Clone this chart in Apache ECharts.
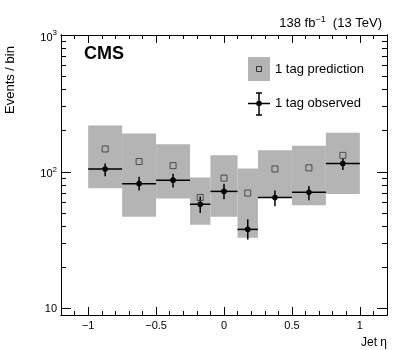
<!DOCTYPE html>
<html>
<head>
<meta charset="utf-8">
<script src="https://cdn.jsdelivr.net/npm/echarts@6/dist/echarts.min.js"></script>
<style>
  html, body { margin: 0; padding: 0; background: #fff; }
  #chart { width: 407px; height: 350px; }
</style>
</head>
<body>
<div id="chart"></div>
<script>
// bins in jet eta
const binLow = [-1, -0.75, -0.5, -0.25, -0.1, 0.1, 0.25, 0.5, 0.75];
const binHigh = [-0.75, -0.5, -0.25, -0.1, 0.1, 0.25, 0.5, 0.75, 1.0];

// 1 tag prediction (central value + band)
const predicted = [147, 119, 111, 65, 90, 70, 105, 107, 132];
const predLow = [76, 47, 64, 41, 47, 33, 65, 57, 69];
const predHigh = [218, 191, 159, 91, 132, 106, 144, 155, 193];

// 1 tag observed (value + stat error)
const observed = [105, 82, 87, 58, 72, 38, 65, 71, 115];
const obsLow = [93, 73, 77, 50, 63, 32, 56, 62, 103];
const obsHigh = [115, 92, 97, 66, 82, 45, 73, 79, 126];

// axis ticks
const xMajorTicks = [-1, -0.5, 0, 0.5, 1];
const xMinorTicks = [-1.1, -0.9, -0.8, -0.7, -0.6, -0.4, -0.3, -0.2, -0.1,
  0.1, 0.2, 0.3, 0.4, 0.6, 0.7, 0.8, 0.9, 1.1];
const yMajorTicks = [10, 100, 1000];
const yMinorTicks = [20, 30, 40, 50, 60, 70, 80, 90, 200, 300, 400, 500, 600, 700, 800, 900];

const FONT = '"Liberation Sans", Arial, Helvetica, sans-serif';
const BAND = '#b4b4b4';

const chart = echarts.init(document.getElementById('chart'));

function xAxisDef(pos, ticks, len, showLabel) {
  return {
    type: 'value', position: pos, min: -1.2, max: 1.2,
    axisLine: { show: true, onZero: false, lineStyle: { color: '#000', width: 1 } },
    axisTick: { show: true, inside: true, length: len, customValues: ticks,
      lineStyle: { color: '#000', width: 1 } },
    axisLabel: { show: showLabel, customValues: ticks, margin: 5,
      fontFamily: FONT, fontSize: 11, color: '#000',
      formatter: v => (v < 0 ? '\u2212' + Math.abs(v) : String(v)) },
    splitLine: { show: false }
  };
}

function yAxisDef(pos, ticks, len, showLabel) {
  return {
    type: 'log', logBase: 10, position: pos, min: 9, max: 1000,
    axisLine: { show: true, onZero: false, lineStyle: { color: '#000', width: 1 } },
    axisTick: { show: true, inside: true, length: len, customValues: ticks,
      lineStyle: { color: '#000', width: 1 } },
    axisLabel: { show: showLabel, customValues: ticks, margin: 4,
      fontFamily: FONT, fontSize: 11, color: '#000',
      formatter: v => {
        const e = Math.round(Math.log10(v));
        return e === 1 ? '10' : '{b|10}{s|' + e + '}';
      },
      rich: {
        b: { fontFamily: FONT, fontSize: 11, color: '#000', padding: [5, 0, 0, 0] },
        s: { fontFamily: FONT, fontSize: 8, color: '#000', padding: [0, 0, 4, 0] }
      } },
    splitLine: { show: false }
  };
}

const boxData = binLow.map((lo, i) => [lo, binHigh[i], predLow[i], predHigh[i]]);
const predData = binLow.map((lo, i) => [(lo + binHigh[i]) / 2, predicted[i]]);
const obsData = binLow.map((lo, i) => [lo, binHigh[i], observed[i], obsLow[i], obsHigh[i]]);

const option = {
  animation: false,
  grid: { left: 61, right: 20, top: 35, bottom: 35, containLabel: false },
  title: [
    { text: 'CMS', left: 79, top: 40,
      textStyle: { fontFamily: FONT, fontSize: 18, fontWeight: 'bold', color: '#000' } },
    { text: '138 fb{s|\u22121}  (13 TeV)', right: 20, top: 10,
      textStyle: { fontFamily: FONT, fontSize: 13, fontWeight: 'normal', color: '#000',
        rich: { s: { fontFamily: FONT, fontSize: 9, color: '#000', padding: [0, 0, 8, 0] } } } }
  ],
  xAxis: [
    Object.assign(xAxisDef('bottom', xMajorTicks, 8, true), {
      name: 'Jet \u03b7', nameLocation: 'end', nameGap: 0,
      nameTextStyle: { fontFamily: FONT, fontSize: 12, color: '#000',
        align: 'right', verticalAlign: 'top', padding: [22, 0, 0, 0] }
    }),
    xAxisDef('bottom', xMinorTicks, 4, false),
    xAxisDef('top', xMajorTicks, 8, false),
    xAxisDef('top', xMinorTicks, 4, false)
  ],
  yAxis: [
    yAxisDef('left', yMajorTicks, 10, true),
    yAxisDef('left', yMinorTicks, 5, false),
    yAxisDef('right', yMajorTicks, 10, false),
    yAxisDef('right', yMinorTicks, 5, false)
  ],
  graphic: [
    { type: 'text', x: 4, y: 114, rotation: Math.PI / 2,
      style: { text: 'Events / bin', fontFamily: FONT, fontSize: 13, fill: '#000',
        textAlign: 'left', textVerticalAlign: 'top' } },
    // legend: prediction
    { type: 'rect', shape: { x: 248, y: 57, width: 22, height: 24 }, style: { fill: BAND } },
    { type: 'rect', shape: { x: 256.5, y: 66.5, width: 5, height: 5 },
      style: { fill: 'none', stroke: '#333', lineWidth: 1 } },
    { type: 'text', x: 275, y: 69,
      style: { text: '1 tag prediction', fontFamily: FONT, fontSize: 13, fill: '#000',
        textVerticalAlign: 'middle' } },
    // legend: observed
    { type: 'line', shape: { x1: 248, y1: 103.5, x2: 270, y2: 103.5 }, style: { stroke: '#000', lineWidth: 1.5 } },
    { type: 'line', shape: { x1: 259, y1: 93, x2: 259, y2: 115 }, style: { stroke: '#000', lineWidth: 1.5 } },
    { type: 'line', shape: { x1: 256, y1: 93, x2: 262, y2: 93 }, style: { stroke: '#000', lineWidth: 1.5 } },
    { type: 'line', shape: { x1: 256, y1: 115, x2: 262, y2: 115 }, style: { stroke: '#000', lineWidth: 1.5 } },
    { type: 'circle', shape: { cx: 259, cy: 103.5, r: 2.8 }, style: { fill: '#000' } },
    { type: 'text', x: 275, y: 103,
      style: { text: '1 tag observed', fontFamily: FONT, fontSize: 13, fill: '#000',
        textVerticalAlign: 'middle' } }
  ],
  series: [
    {
      name: '1 tag prediction band', type: 'custom', clip: true,
      encode: { x: [0, 1], y: [2, 3] },
      data: boxData,
      renderItem: (params, api) => {
        const p1 = api.coord([api.value(0), api.value(3)]);
        const p2 = api.coord([api.value(1), api.value(2)]);
        return { type: 'rect',
          shape: { x: p1[0], y: p1[1], width: p2[0] - p1[0], height: p2[1] - p1[1] },
          style: { fill: BAND } };
      }
    },
    {
      name: '1 tag prediction', type: 'scatter', symbol: 'rect', symbolSize: 6,
      data: predData,
      itemStyle: { color: 'transparent', borderColor: '#333', borderWidth: 1 }
    },
    {
      name: '1 tag observed', type: 'custom', clip: true,
      encode: { x: [0, 1], y: [2, 3, 4] },
      data: obsData,
      renderItem: (params, api) => {
        const lo = api.value(0), hi = api.value(1), mid = (lo + hi) / 2;
        const pL = api.coord([lo, api.value(2)]);
        const pR = api.coord([hi, api.value(2)]);
        const pC = api.coord([mid, api.value(2)]);
        const pDn = api.coord([mid, api.value(3)]);
        const pUp = api.coord([mid, api.value(4)]);
        const line = { stroke: '#000', lineWidth: 1.5 };
        return { type: 'group', children: [
          { type: 'line', shape: { x1: pL[0], y1: pC[1], x2: pR[0], y2: pC[1] }, style: line },
          { type: 'line', shape: { x1: pC[0], y1: pUp[1], x2: pC[0], y2: pDn[1] }, style: line },
          { type: 'circle', shape: { cx: pC[0], cy: pC[1], r: 2.8 }, style: { fill: '#000' } }
        ] };
      }
    }
  ]
};

chart.setOption(option);
</script>
</body>
</html>
